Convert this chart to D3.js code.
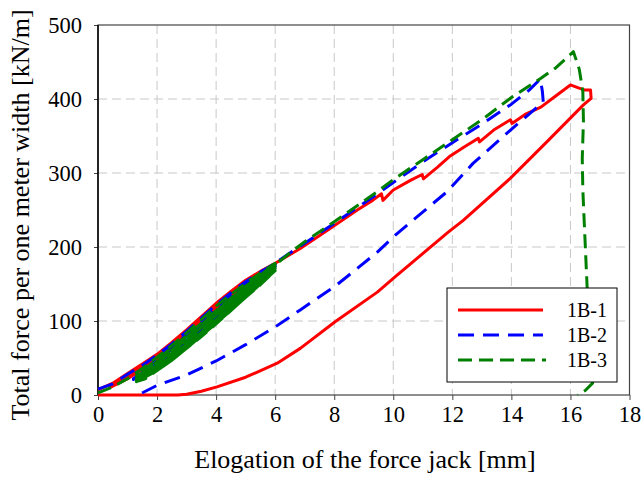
<!DOCTYPE html>
<html>
<head>
<meta charset="utf-8">
<script src="https://cdn.jsdelivr.net/npm/d3@7"></script>
<style>
  body { margin: 0; background: #fff; }
  svg { display: block; font-family: "Liberation Serif", "Times New Roman", serif; }
</style>
</head>
<body>
<svg id="chart" width="644" height="482"></svg>
<script>
const xTicks = [0, 2, 4, 6, 8, 10, 12, 14, 16, 18];
const yTicks = [0, 100, 200, 300, 400, 500];
const seriesNames = ['1B-1', '1B-2', '1B-3'];

// 1B-1: cyclic start, loading with small drops, unloading to zero
const data1B1 = [
  [0, 7], [0.5, 16], [1, 29], [1.5, 42], [2, 55], [2.5, 71], [3, 88], [3.5, 106], [4, 124], [4.5, 140], [5, 155], [5.5, 167], [6, 178],
  [5, 150], [4, 117], [3, 82], [2, 48], [1, 22], [0.4, 10],
  [1, 26], [2, 52], [3, 86], [4, 122], [5, 153], [6, 178],
  [6.85, 198], [7.86, 225], [8.78, 250], [9.3, 263], [9.6, 272], [9.65, 263], [10, 277], [10.58, 290], [10.98, 298], [11.02, 292],
  [11.5, 308], [11.93, 323], [12.4, 335], [12.88, 347], [12.92, 342], [13.4, 358], [13.97, 372], [14.02, 367], [14.5, 380],
  [15, 389], [15.5, 404], [16.0, 419], [16.27, 415], [16.5, 412], [16.68, 412], [16.7, 401], [16.44, 392],
  [15.2, 342], [13.97, 293], [12.37, 236], [11.83, 219], [10.07, 160], [9.46, 139], [8.03, 99], [6.85, 63], [6.07, 43],
  [5, 24], [4.03, 11], [3.5, 5], [3, 1], [2.7, 0], [0, 0]
];

// 1B-2
const data1B2 = [
  [0, 8], [0.5, 15], [1, 28], [1.5, 40], [2, 54], [2.5, 69], [3, 86], [3.5, 104], [4, 122], [4.5, 138], [5, 153], [5.5, 166], [6, 178],
  [5, 148], [4, 113], [3, 79], [2, 45], [1.2, 22],
  [1.6, 30], [2, 42], [3, 76], [4, 110], [5, 146], [6, 176],
  [5, 144], [4, 108], [3, 73], [2, 40], [1.1, 20],
  [1.6, 28], [2, 38], [3, 71], [4, 105], [5, 141], [6, 174],
  [5, 140], [4, 104], [3, 70], [2, 37], [1.2, 21],
  [2, 48], [3, 82], [4, 118], [5, 150], [6, 178],
  [6.5, 192], [7, 205], [8, 232], [9, 259], [10, 287], [11, 315], [12, 341], [13, 366], [14, 393], [14.6, 412], [14.98, 427],
  [15.05, 410], [15.08, 396],
  [13.97, 358], [12.7, 313], [11.83, 275], [10.75, 239], [10.07, 216], [9.46, 193], [8.03, 147], [6.85, 115], [6, 92],
  [5, 68], [4, 46], [3, 27], [2, 13], [1.36, 0]
];

// 1B-3
const data1B3 = [
  [0, 3], [0.5, 11], [1, 22], [1.5, 36], [2, 51], [2.5, 67], [3, 84], [3.5, 102], [4, 120], [4.5, 136], [5, 151], [5.5, 165], [6, 178],
  [5.5, 162], [5, 147], [4.5, 131], [4, 114], [3.5, 97], [3, 80], [2.5, 64], [2, 48], [1.6, 36], [1.3, 26],
  [1.6, 32], [2, 45], [2.5, 61], [3, 78], [3.5, 95], [4, 113], [4.5, 130], [5, 146], [5.5, 161], [6, 176],
  [5.5, 158], [5, 142], [4.5, 125], [4, 108], [3.5, 91], [3, 75], [2.5, 59], [2, 43], [1.6, 31], [1.3, 22],
  [1.6, 28], [2, 40], [2.5, 56], [3, 72], [3.5, 89], [4, 106], [4.5, 124], [5, 141], [5.5, 157], [6, 173],
  [5.5, 154], [5, 138], [4.5, 120], [4, 102], [3.5, 85], [3, 69], [2.5, 53], [2, 38], [1.6, 27], [1.3, 20],
  [1.6, 25], [2, 36], [2.5, 51], [3, 67], [3.5, 84], [4, 101], [4.5, 118], [5, 136], [5.5, 153], [6, 171],
  [5.5, 151], [5, 134], [4.5, 116], [4, 98], [3.5, 81], [3, 65], [2.5, 49], [2, 35], [1.6, 25], [1.3, 18],
  [1.6, 22], [2, 33], [2.5, 47], [3, 63], [3.5, 80], [4, 97], [4.5, 114], [5, 132], [5.5, 150], [6, 168],
  [5.5, 149], [5, 132], [4.5, 114], [4, 96], [3.5, 79], [3, 63], [2.5, 47], [2, 33], [1.5, 22], [1.3, 18],
  [2, 40], [3, 73], [4, 110], [5, 144], [6, 176],
  [6.5, 192], [7, 207], [8, 234], [9, 262], [9.5, 276], [10, 291], [11, 318], [12, 345], [13, 372], [14, 402], [15, 428],
  [15.5, 442], [16.1, 464], [16.3, 440], [16.42, 410], [16.44, 370], [16.4, 320], [16.42, 277], [16.46, 240], [16.52, 186],
  [16.56, 150], [16.65, 80], [16.75, 16], [16.5, 6], [16.24, 0]
];

const styles = [
  { color: '#ff0000', dash: null },
  { color: '#0000ff', dash: '16,9' },
  { color: '#008000', dash: '14,7' }
];

const margin = { top: 25, right: 14.5, bottom: 87, left: 98 };
const W = 644, H = 482;
const width = W - margin.left - margin.right;
const height = H - margin.top - margin.bottom;

const svg = d3.select('#chart');
const g = svg.append('g').attr('transform', `translate(${margin.left},${margin.top})`);

const x = d3.scaleLinear().domain([0, 18]).range([0, width]);
const y = d3.scaleLinear().domain([0, 500]).range([height, 0]);

// grid
g.append('g').selectAll('line').data(xTicks.slice(1, -1)).enter().append('line')
  .attr('x1', d => x(d)).attr('x2', d => x(d)).attr('y1', 0).attr('y2', height)
  .attr('stroke', '#c8c8c8').attr('stroke-width', 1).attr('stroke-dasharray', '9,5');
g.append('g').selectAll('line').data(yTicks.slice(1, -1)).enter().append('line')
  .attr('x1', 0).attr('x2', width).attr('y1', d => y(d)).attr('y2', d => y(d))
  .attr('stroke', '#c8c8c8').attr('stroke-width', 1).attr('stroke-dasharray', '9,5');

// axes
const xAxis = g.append('g').attr('transform', `translate(0,${height})`)
  .call(d3.axisBottom(x).tickValues(xTicks).tickSize(5).tickPadding(6).tickFormat(d3.format('d')));
const yAxis = g.append('g')
  .call(d3.axisLeft(y).tickValues(yTicks).tickSize(4).tickPadding(12).tickFormat(d3.format('d')));
[xAxis, yAxis].forEach(a => {
  a.select('.domain').remove();
  a.selectAll('line').attr('stroke', '#444');
  a.selectAll('text').attr('font-family', '"Liberation Serif", serif').attr('font-size', 22.5).attr('fill', '#000');
});

// frame
g.append('rect').attr('x', 0).attr('y', 0).attr('width', width).attr('height', height)
  .attr('fill', 'none').attr('stroke', '#444').attr('stroke-width', 1.2);
g.append('line').attr('x1', 0).attr('x2', 0).attr('y1', 0).attr('y2', height)
  .attr('stroke', '#000').attr('stroke-width', 1.5);

// series
const line = d3.line().x(d => x(d[0])).y(d => y(d[1]));
svg.append('defs').append('clipPath').attr('id', 'clip')
  .append('rect').attr('x', -2).attr('y', -2).attr('width', width + 4).attr('height', height + 4);
[data1B1, data1B2, data1B3].forEach((d, i) => {
  g.append('path').datum(d)
    .attr('d', line)
    .attr('fill', 'none')
    .attr('stroke', styles[i].color)
    .attr('stroke-width', 3)
    .attr('stroke-linejoin', 'round')
    .attr('stroke-dasharray', styles[i].dash)
    .attr('clip-path', 'url(#clip)');
});

// legend
const lg = svg.append('g').attr('transform', 'translate(447,288)');
lg.append('rect').attr('width', 170).attr('height', 94)
  .attr('fill', '#fff').attr('stroke', '#000').attr('stroke-width', 1);
seriesNames.forEach((name, i) => {
  const yy = 22 + i * 25;
  lg.append('line').attr('x1', 11).attr('x2', i === 2 ? 99 : 96).attr('y1', yy).attr('y2', yy)
    .attr('stroke', styles[i].color).attr('stroke-width', 3)
    .attr('stroke-dasharray', styles[i].dash);
  lg.append('text').attr('x', 120).attr('y', yy + 7).attr('font-size', 20).text(name);
});

// titles
svg.append('text').attr('x', 365).attr('y', 468)
  .attr('text-anchor', 'middle').attr('font-size', 26)
  .text('Elogation of the force jack [mm]');
svg.append('text').attr('transform', 'translate(29,215) rotate(-90)')
  .attr('text-anchor', 'middle').attr('font-size', 26)
  .text('Total force per one meter width [kN/m]');
</script>
</body>
</html>
